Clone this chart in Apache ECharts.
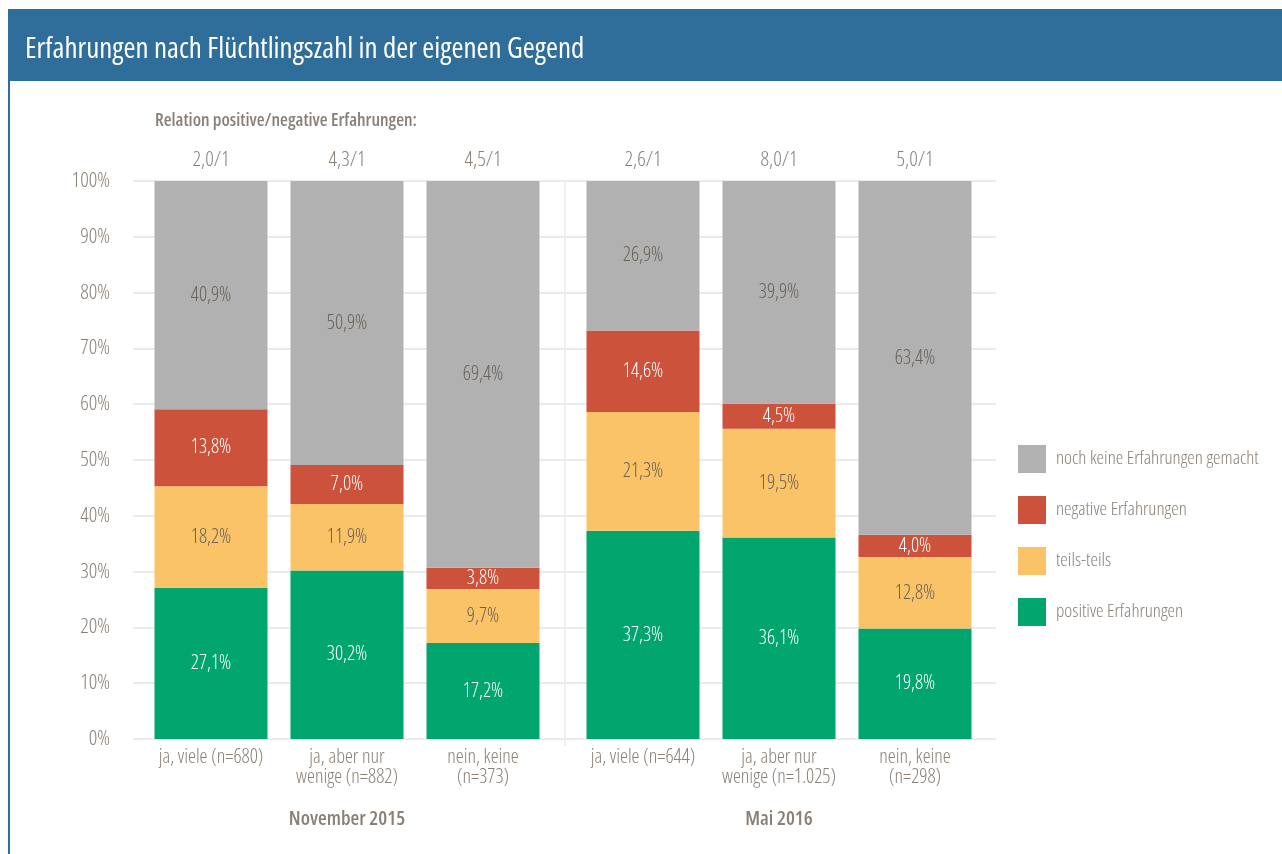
<!DOCTYPE html>
<html>
<head>
<meta charset="utf-8">
<script src="https://cdn.jsdelivr.net/npm/echarts@6/dist/echarts.min.js"></script>
<style>
  html, body { margin: 0; padding: 0; background: #fff; }
  #chart { width: 1282px; height: 854px; }
</style>
</head>
<body>
<div id="chart"></div>
<script>
// Werte aus der Grafik (Prozent)
var groups = ['November 2015', 'Mai 2016'];
var categories1 = ['ja, viele (n=680)', 'ja, aber nur\nwenige (n=882)', 'nein, keine\n(n=373)'];
var categories2 = ['ja, viele (n=644)', 'ja, aber nur\nwenige (n=1.025)', 'nein, keine\n(n=298)'];
var ratios1 = ['2,0/1', '4,3/1', '4,5/1'];
var ratios2 = ['2,6/1', '8,0/1', '5,0/1'];

var seriesNames = ['positive Erfahrungen', 'teils-teils', 'negative Erfahrungen', 'noch keine Erfahrungen gemacht'];
var positive1 = [27.1, 30.2, 17.2];
var teils1 = [18.2, 11.9, 9.7];
var negative1 = [13.8, 7.0, 3.8];
var keine1 = [40.9, 50.9, 69.4];
var positive2 = [37.3, 36.1, 19.8];
var teils2 = [21.3, 19.5, 12.8];
var negative2 = [14.6, 4.5, 4.0];
var keine2 = [26.9, 39.9, 63.4];

var yTicks = [0, 100, 10];

// Open Sans ist variabel -> "condensed" als fontStyle ergibt die schmale Schrift
var FONT = '"Open Sans", sans-serif';
var COND = 'condensed';
var colors = ['#00a66e', '#fbc367', '#cc523b', '#b1b1b1'];
var labelColors = ['#ffffff', '#6b6259', '#ffffff', '#6b6259'];
var textGrey = '#8a8078';

var chart = echarts.init(document.getElementById('chart'));

function fmt(p) {
    return p.value.toFixed(1).replace('.', ',') + '%';
}

function makeSeries(data, idx, axisIdx, stack) {
    return {
        name: seriesNames[idx],
        type: 'bar',
        stack: stack,
        xAxisIndex: axisIdx,
        yAxisIndex: axisIdx,
        barWidth: 113,
        data: data,
        itemStyle: { color: colors[idx] },
        label: {
            show: true,
            formatter: fmt,
            color: labelColors[idx],
            fontFamily: FONT,
            fontStyle: COND,
            fontWeight: 300,
            fontSize: 20
        },
        emphasis: { disabled: true }
    };
}

var set1 = [positive1, teils1, negative1, keine1];
var set2 = [positive2, teils2, negative2, keine2];
var series = [];
set1.forEach(function (d, i) { series.push(makeSeries(d, i, 1, 'g1')); });
set2.forEach(function (d, i) { series.push(makeSeries(d, i, 2, 'g2')); });

var catAxisLabel = {
    color: textGrey,
    fontFamily: FONT,
    fontStyle: COND,
    fontWeight: 300,
    fontSize: 20,
    lineHeight: 20,
    margin: 8,
    interval: 0
};
var groupName = { color: textGrey, fontFamily: FONT, fontStyle: COND, fontSize: 20, fontWeight: 600 };
var ratioLabel = { color: textGrey, fontFamily: FONT, fontStyle: COND, fontWeight: 300, fontSize: 21, margin: 10 };

var option = {
    animation: false,
    textStyle: { fontFamily: FONT },
    graphic: [
        { type: 'rect', shape: { x: 8, y: 9, width: 1274, height: 72 }, style: { fill: '#2f6e9b' } },
        { type: 'rect', shape: { x: 8, y: 81, width: 2, height: 773 }, style: { fill: '#2f6e9b' } },
        { type: 'line', shape: { x1: 565, y1: 181, x2: 565, y2: 746 }, style: { stroke: '#ebebeb', lineWidth: 1.5 } },
        {
            type: 'text', left: 25, top: 35,
            style: { text: 'Erfahrungen nach Flüchtlingszahl in der eigenen Gegend', fill: '#ffffff', font: 'condensed 29px "Open Sans"' }
        },
        {
            type: 'text', left: 155, top: 112,
            style: { text: 'Relation positive/negative Erfahrungen:', fill: textGrey, font: 'condensed 600 18px "Open Sans"' }
        }
    ],
    legend: {
        data: ['noch keine Erfahrungen gemacht', 'negative Erfahrungen', 'teils-teils', 'positive Erfahrungen'],
        orient: 'vertical',
        left: 1013,
        top: 440,
        itemWidth: 28,
        itemHeight: 28,
        itemGap: 23,
        icon: 'rect',
        selectedMode: false,
        textStyle: { color: textGrey, fontFamily: FONT, fontStyle: COND, fontWeight: 300, fontSize: 19, padding: [0, 0, 0, 5] }
    },
    grid: [
        { left: 133, right: 286, top: 181, bottom: 115 },
        { left: 143, width: 408, top: 181, bottom: 115 },
        { left: 575, width: 408, top: 181, bottom: 115 }
    ],
    xAxis: [
        { gridIndex: 0, type: 'value', show: false },
        {
            gridIndex: 1, type: 'category', data: categories1,
            axisLine: { show: false }, axisTick: { show: false },
            axisLabel: catAxisLabel,
            name: groups[0], nameLocation: 'middle', nameGap: 70,
            nameTextStyle: groupName
        },
        {
            gridIndex: 2, type: 'category', data: categories2,
            axisLine: { show: false }, axisTick: { show: false },
            axisLabel: catAxisLabel,
            name: groups[1], nameLocation: 'middle', nameGap: 70,
            nameTextStyle: groupName
        },
        {
            gridIndex: 1, type: 'category', position: 'top', data: ratios1,
            axisLine: { show: false }, axisTick: { show: false },
            axisLabel: ratioLabel
        },
        {
            gridIndex: 2, type: 'category', position: 'top', data: ratios2,
            axisLine: { show: false }, axisTick: { show: false },
            axisLabel: ratioLabel
        }
    ],
    yAxis: [
        {
            gridIndex: 0, type: 'value', min: yTicks[0], max: yTicks[1], interval: yTicks[2],
            axisLine: { show: false }, axisTick: { show: false },
            axisLabel: { formatter: '{value}%', color: textGrey, fontFamily: FONT, fontStyle: COND, fontWeight: 300, fontSize: 21, margin: 23 },
            splitLine: { lineStyle: { color: '#ebebeb', width: 2 } }
        },
        { gridIndex: 1, type: 'value', min: 0, max: 100, show: false },
        { gridIndex: 2, type: 'value', min: 0, max: 100, show: false }
    ],
    series: series
};

chart.setOption(option);
</script>
</body>
</html>
